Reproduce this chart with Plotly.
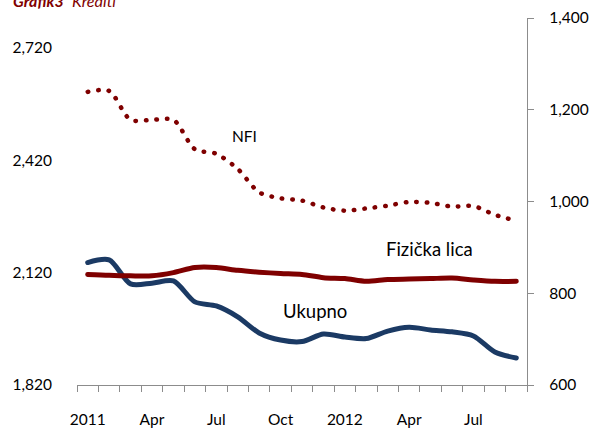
import plotly.graph_objects as go

# Monthly data, Jan 2011 .. Sep 2012 (month index 0..20)
months = list(range(21))
tick_months = [0, 3, 6, 9, 12, 15, 18]
tick_labels = ["2011", "Apr", "Jul", "Oct", "2012", "Apr", "Jul"]

ukupno = [2147, 2154, 2090, 2092, 2098, 2042, 2031, 2002, 1959, 1940, 1936,
          1956, 1948, 1944, 1964, 1974, 1967, 1962, 1951, 1908, 1892]
fizicka_lica = [841, 839, 838, 838, 845, 856, 856, 850, 846, 843, 841,
                834, 832, 826, 830, 831, 832, 833, 829, 826, 826]
nfi = [1239, 1241, 1178, 1178, 1178, 1114, 1104, 1071, 1020, 1007, 1002,
       987, 980, 985, 991, 999, 997, 989, 990, 971, 958]

left_ticks = [1820, 2120, 2420, 2720]
right_ticks = [600, 800, 1000, 1200, 1400]

RED = "#7F0000"
NAVY = "#1B3A64"
GRAY = "#8C8C8C"
FONT = "Lato"

fig = go.Figure()
fig.add_trace(go.Scatter(x=months, y=fizicka_lica, yaxis="y2", mode="lines",
                         line=dict(color=RED, width=5, shape="spline", smoothing=0.8),
                         name="Fizička lica"))
fig.add_trace(go.Scatter(x=months, y=nfi, yaxis="y2", mode="lines",
                         line=dict(color=RED, width=4.5, shape="spline", smoothing=0.8,
                                   dash="0.5px,10px"),
                         name="NFI"))
fig.add_trace(go.Scatter(x=months, y=ukupno, yaxis="y", mode="lines",
                         line=dict(color=NAVY, width=5, shape="spline", smoothing=0.8),
                         name="Ukupno"))

fig.update_layout(
    width=595, height=428,
    margin=dict(l=77, r=68, t=18, b=43, autoexpand=False),
    paper_bgcolor="white", plot_bgcolor="white",
    showlegend=False, hovermode=False,
    font=dict(family=FONT, size=15.5, color="#000000"),
    xaxis=dict(range=[-0.5, 20.5], tickmode="array", tickvals=tick_months,
               ticktext=tick_labels, ticks="", showgrid=False, zeroline=False,
               showline=True, linecolor=GRAY, linewidth=1.3, automargin=False,
               ticklabelstandoff=20,
               minor=dict(ticks="outside", tickmode="array",
                          tickvals=[m - 0.5 for m in months] + [months[-1] + 0.5],
                          ticklen=6, tickcolor=GRAY, tickwidth=1.3, showgrid=False)),
    yaxis=dict(range=[1820, 2800], tickmode="array", tickvals=left_ticks,
               tickformat=",d", showgrid=False, zeroline=False, showline=False,
               ticks="", ticklabelstandoff=24, automargin=False),
    yaxis2=dict(range=[600, 1400], overlaying="y", side="right", tickmode="array",
                tickvals=right_ticks, tickformat=",d", showgrid=False, zeroline=False,
                showline=True, linecolor=GRAY, linewidth=1.3, ticks="outside",
                ticklen=6, tickcolor=GRAY, tickwidth=1.3, ticklabelstandoff=12,
                automargin=False),
)

fig.add_annotation(text="<b><i>Grafik3</i></b>  <i>Krediti</i>", xref="paper", yref="paper",
                   x=-66 / 450, y=1, xanchor="left", yanchor="middle", yshift=18,
                   showarrow=False, font=dict(family=FONT, size=16, color=RED))
fig.add_annotation(text="NFI", xref="x", yref="y2", x=7.3, y=1143, showarrow=False,
                   font=dict(family=FONT, size=15.5, color="#000000"))
fig.add_annotation(text="Ukupno", xref="x", yref="y", x=10.6, y=2018, showarrow=False,
                   font=dict(family=FONT, size=18.5, color="#000000"))
fig.add_annotation(text="Fizička lica", xref="x", yref="y2", x=15.95, y=897, showarrow=False,
                   font=dict(family=FONT, size=18.5, color="#000000"))

post = ("var s=document.createElement('style');"
        "s.innerHTML='html,body{margin:0;padding:0;overflow:hidden;}"
        ".js-line{stroke-linecap:round;stroke-linejoin:round;}';"
        "document.head.appendChild(s);")
fig.write_html("out.html", post_script=post, config={"displayModeBar": False})
